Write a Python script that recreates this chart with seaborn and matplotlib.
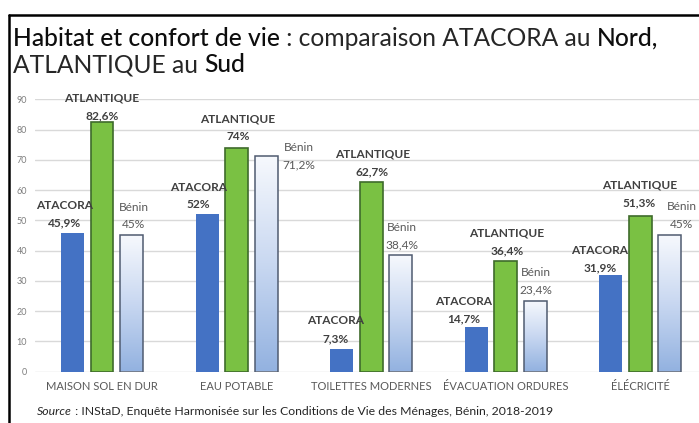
import numpy as np
import pandas as pd
import matplotlib
matplotlib.use("Agg")
import matplotlib.pyplot as plt
import seaborn as sns
from matplotlib.colors import LinearSegmentedColormap
from matplotlib.lines import Line2D

# ---------------- data ----------------
categories = ["MAISON SOL EN DUR", "EAU POTABLE", "TOILETTES MODERNES",
              "ÉVACUATION ORDURES", "ÉLÉCRICITÉ"]
series = ["ATACORA", "ATLANTIQUE", "Bénin"]
atacora = [45.9, 52.0, 7.3, 14.7, 31.9]
atlantique = [82.6, 74.0, 62.7, 36.4, 51.3]
benin = [45.0, 71.2, 38.4, 23.4, 45.0]
atacora_labels = ["45,9%", "52%", "7,3%", "14,7%", "31,9%"]
atlantique_labels = ["82,6%", "74%", "62,7%", "36,4%", "51,3%"]
benin_labels = ["45%", "71,2%", "38,4%", "23,4%", "45%"]
yticks = [0, 10, 20, 30, 40, 50, 60, 70, 80, 90]
title_line1 = [("Habitat et confort de vie", "medium"),
               (" : comparaison ATACORA au ", "normal"),
               ("Nord,", "medium")]
title_line2 = [("ATLANTIQUE au ", "normal"), ("Sud", "medium")]
source_parts = [("Source", "italic"),
                (" : INStaD, Enquête Harmonisée sur les Conditions de Vie des Ménages, Bénin, 2018-2019", "normal")]

df = pd.DataFrame({
    "cat": categories * 3,
    "series": [s for s in series for _ in categories],
    "val": atacora + atlantique + benin,
})

# ---------------- style ----------------
sns.set_theme(style="white")
plt.rcParams["font.family"] = ["Lato", "DejaVu Sans"]

W, H = 699, 423
fig = plt.figure(figsize=(W / 100, H / 100), dpi=100)
fig.patch.set_facecolor("white")
ax = fig.add_axes([35 / W, 1 - 371.5 / H, 1 - 35 / W, (371.5 - 99.5) / H])

palette = {"ATACORA": "#4472c4", "ATLANTIQUE": "#7ac143", "Bénin": "#ffffff"}
sns.barplot(data=df, x="cat", y="val", hue="series", order=categories,
            hue_order=series, palette=palette, width=0.657, gap=0.22,
            saturation=1, legend=False, ax=ax, errorbar=None)

ax.set_xlim(-0.4978, 4.4355)
ax.set_ylim(0, 90)
for s in ax.spines.values():
    s.set_visible(False)
ax.set_axisbelow(True)
ax.yaxis.grid(True, color="#d9d9d9", lw=1.0)
ax.xaxis.grid(False)
ax.set_yticks(yticks)
ax.set_yticklabels([str(v) for v in yticks])
ax.tick_params(axis="y", length=0, pad=5.8, labelsize=6.5, labelcolor="#7f7f7f")
ax.tick_params(axis="x", length=0, pad=7, labelsize=8, labelcolor="#595959")
ax.set_xlabel("")
ax.set_ylabel("")

c_at, c_atl, c_ben = ax.containers[0], ax.containers[1], ax.containers[2]
for p in c_at:
    p.set_edgecolor("none")
for p in c_atl:
    p.set_edgecolor("#3e6b2b")
    p.set_linewidth(1.2)

cmap = LinearSegmentedColormap.from_list("benin", ["#93b2e0", "#c9d8f1", "#f7f9fd"])
grad = np.linspace(0, 1, 256).reshape(-1, 1)
for p in c_ben:
    p.set_facecolor("none")
    p.set_edgecolor("#4f5b70")
    p.set_linewidth(1.1)
    p.set_zorder(3)
    x0 = p.get_x()
    im = ax.imshow(grad, extent=[x0, x0 + p.get_width(), 0, p.get_height()],
                   origin="lower", cmap=cmap, aspect="auto", zorder=2.5,
                   interpolation="bilinear")
    im.set_clip_path(p)
ax.set_xlim(-0.4978, 4.4355)
ax.set_ylim(0, 90)

# ---------------- bar labels ----------------
LS = 17.5
def put(container, names, values, dxs, dys, weight, color, size):
    for p, nm, vl, dx, dy in zip(container, names, values, dxs, dys):
        xc = p.get_x() + p.get_width() / 2
        top = p.get_height()
        kw = dict(xycoords="data", textcoords="offset pixels", ha="center",
                  va="center", fontsize=size, fontweight=weight, color=color,
                  annotation_clip=False, zorder=5)
        ax.annotate(vl, (xc, top), xytext=(dx, dy), **kw)
        ax.annotate(nm, (xc, top), xytext=(dx, dy + LS), **kw)

put(c_at, ["ATACORA"] * 5, atacora_labels,
    [-8, -9, -6, -13, -11], [10, 9.5, 11, 8.5, 7.5], "bold", "#404040", 8.6)
put(c_atl, ["ATLANTIQUE"] * 5, atlantique_labels,
    [0, 1.5, 1, 1, -1], [6, 11, 10.5, 11, 14], "bold", "#404040", 8.6)
put(c_ben, ["Bénin"] * 5, benin_labels,
    [2, 33, 1, 1, 12], [10.5, -8.5, 10.5, 11, 11.5], "normal", "#595959", 8.6)

# ---------------- title / source ----------------
fig.canvas.draw()
renderer = fig.canvas.get_renderer()

def place_line(parts, x_px, y_px, size, color_map):
    x = x_px
    texts = []
    for txt, sty in parts:
        style_kw = {"fontstyle": "italic"} if sty == "italic" else {"fontweight": sty}
        t = fig.text(x / W, 1 - y_px / H, txt, color=color_map.get(sty, "#262626"),
                     fontsize=size, va="baseline", ha="left", **style_kw)
        bb = t.get_window_extent(renderer=renderer)
        x = bb.x1
        texts.append(t)
    return x - x_px, texts

# auto-size title so line 1 spans ~647 px
w, ts = place_line(title_line1, 13, 46, 15, {})
for t in ts:
    t.remove()
tsize = 15 * 647 / w
cmap_t = {"medium": "#0d0d0d", "normal": "#262626"}
place_line(title_line1, 13, 46, tsize, cmap_t)
place_line(title_line2, 13, 72, tsize, cmap_t)

# auto-size source so it spans ~516 px
w, ts = place_line(source_parts, 37, 414.5, 8, {})
for t in ts:
    t.remove()
ssize = 8 * 516 / w
place_line(source_parts, 37, 414.5, ssize, {"italic": "#262626", "normal": "#262626"})

# frame
fig.add_artist(Line2D([9 / W, 9 / W], [0, 1 - 15 / H], transform=fig.transFigure,
                      color="black", lw=1.8))
fig.add_artist(Line2D([9 / W, 1], [1 - 15 / H, 1 - 15 / H], transform=fig.transFigure,
                      color="black", lw=1.8))

fig.savefig("out.png", dpi=100)
